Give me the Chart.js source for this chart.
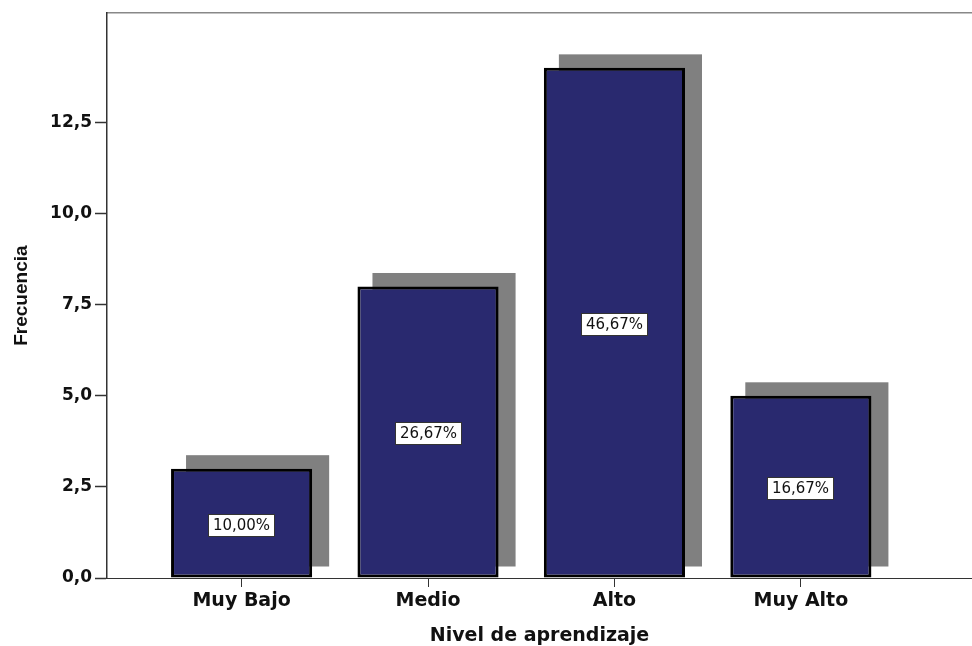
<!DOCTYPE html>
<html>
<head>
<meta charset="utf-8">
<title>Nivel de aprendizaje</title>
<script src="https://cdn.jsdelivr.net/npm/chart.js@4.4.1/dist/chart.umd.min.js"></script>
<style>
    html, body { margin: 0; padding: 0; background: #ffffff; overflow: hidden; }
    #wrap { width: 972px; height: 646px; }
</style>
</head>
<body>
<div id="wrap"><canvas id="nivelChart"></canvas></div>
<script>
// Data
const categories = ['Muy Bajo', 'Medio', 'Alto', 'Muy Alto'];
const frequencies = [3, 8, 14, 5];
const percentLabels = ['10,00%', '26,67%', '46,67%', '16,67%'];
const yTicks = [0, 2.5, 5, 7.5, 10, 12.5];
const yTickLabels = ['0,0', '2,5', '5,0', '7,5', '10,0', '12,5'];

const barColor = '#29296f';
const shadowColor = '#808080';
const textColor = '#111111';

// Grey drop shadow behind each bar (SPSS style)
const shadowPlugin = {
    id: 'barShadow',
    beforeDatasetsDraw(chart) {
        const ctx = chart.ctx;
        const meta = chart.getDatasetMeta(0);
        ctx.save();
        ctx.fillStyle = shadowColor;
        meta.data.forEach(bar => {
            const { x, y, base, width } = bar.getProps(['x', 'y', 'base', 'width'], true);
            const left = x - width / 2 + 15;
            const right = x + width / 2 + 17;
            const top = y - 13.5;
            const bottom = base - 11;
            ctx.fillRect(left, top, right - left, bottom - top);
        });
        ctx.restore();
    }
};

// White boxed percentage label in the middle of every bar
const percentPlugin = {
    id: 'percentBoxes',
    afterDatasetsDraw(chart) {
        const ctx = chart.ctx;
        const meta = chart.getDatasetMeta(0);
        ctx.save();
        ctx.font = '15px "DejaVu Sans", sans-serif';
        ctx.textAlign = 'center';
        ctx.textBaseline = 'middle';
        meta.data.forEach((bar, i) => {
            const { x, y, base } = bar.getProps(['x', 'y', 'base'], true);
            const cy = (y + base) / 2 + 2;
            const text = percentLabels[i];
            const w = Math.round(ctx.measureText(text).width + 10);
            const h = 23;
            const bx = Math.round(x - w / 2);
            const by = Math.round(cy - h / 2);
            ctx.fillStyle = '#ffffff';
            ctx.fillRect(bx, by, w, h);
            ctx.strokeStyle = '#333333';
            ctx.lineWidth = 1;
            ctx.strokeRect(bx + 0.5, by + 0.5, w - 1, h - 1);
            ctx.fillStyle = textColor;
            ctx.fillText(text, bx + w / 2, by + h / 2 + 1);
        });
        ctx.restore();
    }
};

function renderChart() {
    const ctx = document.getElementById('nivelChart').getContext('2d');

    new Chart(ctx, {
        type: 'bar',
        data: {
            datasets: [{
                label: 'Frecuencia',
                data: categories.map((c, i) => ({ x: i + 1, y: frequencies[i] })),
                backgroundColor: barColor,
                borderColor: '#000000',
                borderWidth: 3,
                borderSkipped: false,
                categoryPercentage: 1,
                barPercentage: 0.757
            }]
        },
        options: {
            responsive: true,
            maintainAspectRatio: false,
            devicePixelRatio: 1,
            animation: false,
            layout: { padding: 0 },
            scales: {
                x: {
                    type: 'linear',
                    position: 'bottom',
                    min: 0.278,
                    max: 4.918,
                    offset: false,
                    afterBuildTicks: scale => {
                        scale.ticks = categories.map((c, i) => ({ value: i + 1 }));
                    },
                    afterFit: scale => { scale.height = 68; },
                    ticks: {
                        autoSkip: false,
                        maxRotation: 0,
                        padding: 3,
                        color: textColor,
                        font: { family: '"DejaVu Sans", sans-serif', size: 19, weight: 'bold' },
                        callback: (value, index) => categories[index]
                    },
                    grid: {
                        offset: false,
                        drawOnChartArea: false,
                        drawTicks: true,
                        tickLength: 9,
                        tickColor: '#333333',
                        tickWidth: 1
                    },
                    border: { display: true, color: '#333333', width: 1 },
                    title: {
                        display: true,
                        text: 'Nivel de aprendizaje',
                        color: textColor,
                        padding: { top: 0, bottom: 0 },
                        font: { family: '"DejaVu Sans", sans-serif', size: 19, weight: 'bold', lineHeight: 1 }
                    }
                },
                xTop: {
                    type: 'linear',
                    position: 'top',
                    min: 0,
                    max: 1,
                    afterFit: scale => { scale.height = 12; },
                    ticks: { display: false },
                    grid: { display: false, drawTicks: false },
                    border: { display: true, color: '#888888', width: 1.5 }
                },
                y: {
                    min: 0,
                    max: 15.5,
                    afterBuildTicks: scale => {
                        scale.ticks = yTicks.map(v => ({ value: v }));
                    },
                    afterFit: scale => { scale.width = 107; },
                    ticks: {
                        padding: 3,
                        color: textColor,
                        font: { family: '"DejaVu Sans", sans-serif', size: 17, weight: 'bold' },
                        callback: (value, index) => yTickLabels[index]
                    },
                    grid: {
                        drawOnChartArea: false,
                        drawTicks: true,
                        tickLength: 12,
                        tickColor: '#333333',
                        tickWidth: 1.5
                    },
                    border: { display: true, color: '#333333', width: 1.5 },
                    title: {
                        display: true,
                        text: 'Frecuencia',
                        color: textColor,
                        padding: { top: 12, bottom: 0 },
                        font: { family: '"Liberation Sans", Arial, sans-serif', size: 19, weight: 'bold', lineHeight: 1 }
                    }
                }
            },
            plugins: {
                legend: { display: false },
                tooltip: { enabled: false }
            }
        },
        plugins: [shadowPlugin, percentPlugin]
    });
}

if (document.readyState === 'loading') {
    document.addEventListener('DOMContentLoaded', renderChart);
} else {
    renderChart();
}
</script>
</body>
</html>
